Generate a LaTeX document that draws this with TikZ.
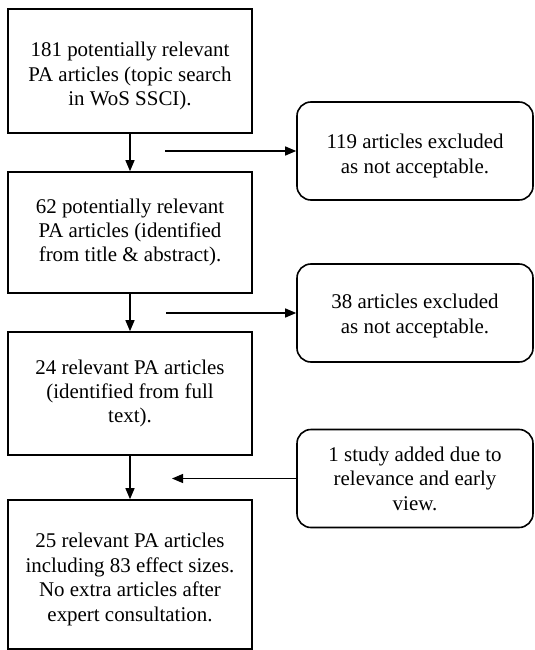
\documentclass[tikz,border=0pt]{standalone}
\usepackage{fontspec}
\setmainfont{Liberation Serif}
\usepackage{tikz}
\usetikzlibrary{arrows.meta,positioning}

\begin{document}
\begin{tikzpicture}[x=1bp,y=-1bp,>={Triangle[length=11bp,width=9bp]},
  stagebox/.style={draw,line width=1.6bp,minimum width=244bp,align=center,inner sep=0pt,
    font=\fontsize{21}{24.5}\selectfont},
  notebox/.style={draw,line width=1.6bp,rounded corners=14bp,minimum width=236bp,minimum height=98bp,
    align=center,inner sep=0pt,font=\fontsize{21}{24.5}\selectfont},
  flow/.style={->,line width=1.2bp}]
\useasboundingbox (0,0) rectangle (535,650);
% left column
\node[stagebox,minimum height=124bp] (found) at (130,71) {\rule{0pt}{24.5bp}181 potentially relevant\\PA articles (topic search\\in WoS SSCI).};
\node[stagebox,minimum height=121bp] (screened) at (130,232.5) {62 potentially relevant\\PA articles (identified\\from title \& abstract).};
\node[stagebox,minimum height=123bp] (eligible) at (130,393.5) {24 relevant PA articles\\(identified from full\\text).};
\node[stagebox,minimum height=149bp] (included) at (130,574.5) {\rule{0pt}{24.5bp}25 relevant PA articles\\including 83 effect sizes.\\No extra articles after\\expert consultation.};
% right column
\node[notebox] (excl1) at (415,151) {\rule{0pt}{24.5bp}119 articles excluded\\as not acceptable.};
\node[notebox] (excl2) at (415,313) {\rule{0pt}{20.5bp}38 articles excluded\\as not acceptable.};
\node[notebox] (added) at (415,478.5) {1 study added due to\\relevance and early\\view.};
\coordinate (j1) at (165,151);
\coordinate (j2) at (166,313);
\coordinate (j3) at (172,478.5);
\draw[flow] (found) -- (screened);
\draw[flow] (screened) -- (eligible);
\draw[flow] (eligible) -- (included);
\draw[flow] (j1) -- (excl1);
\draw[flow] (j2) -- (excl2);
\draw[flow] (added) -- (j3);
\end{tikzpicture}
\end{document}
